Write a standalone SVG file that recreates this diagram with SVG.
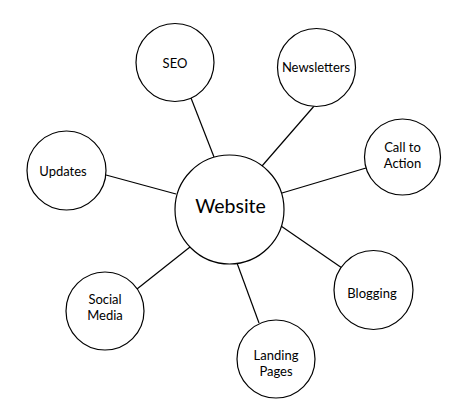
<svg xmlns="http://www.w3.org/2000/svg" width="463" height="414" viewBox="0 0 463 414">
<style>
.n circle{fill:#fff;stroke:#000;stroke-width:1.2}
.n text{font-family:Lato,"Open Sans",sans-serif;font-size:13px;fill:#000;text-anchor:middle}
#website text{font-size:19.5px}
#edges line{stroke:#000;stroke-width:1.2}
</style>
<rect width="463" height="414" fill="#fff"/>
<g id="edges">
<line x1="191" y1="98" x2="214" y2="157"/>
<line x1="315" y1="105" x2="262" y2="166"/>
<line x1="282" y1="193" x2="366" y2="168"/>
<line x1="106" y1="175" x2="176" y2="194"/>
<line x1="281" y1="226" x2="342" y2="268"/>
<line x1="190" y1="247" x2="137" y2="289"/>
<line x1="237" y1="263" x2="259" y2="323"/>
</g>
<g id="website" class="n"><circle cx="229.5" cy="209.5" r="54.5"/><text x="230.5" y="213">Website</text></g>
<g id="seo" class="n"><circle cx="175" cy="62.5" r="39"/><text x="175" y="68">SEO</text></g>
<g id="newsletters" class="n"><circle cx="316.5" cy="67.5" r="39"/><text x="316" y="72">Newsletters</text></g>
<g id="call-to-action" class="n"><circle cx="402.5" cy="157" r="38"/><text x="402.5" y="152">Call to</text><text x="402.5" y="168">Action</text></g>
<g id="updates" class="n"><circle cx="66.5" cy="170.5" r="39.5"/><text x="63" y="176">Updates</text></g>
<g id="blogging" class="n"><circle cx="373.5" cy="290" r="39.5"/><text x="372" y="298">Blogging</text></g>
<g id="social-media" class="n"><circle cx="105" cy="311" r="39"/><text x="105" y="304">Social</text><text x="105" y="320">Media</text></g>
<g id="landing-pages" class="n"><circle cx="276" cy="359" r="39"/><text x="276" y="360">Landing</text><text x="276" y="376">Pages</text></g>
</svg>
